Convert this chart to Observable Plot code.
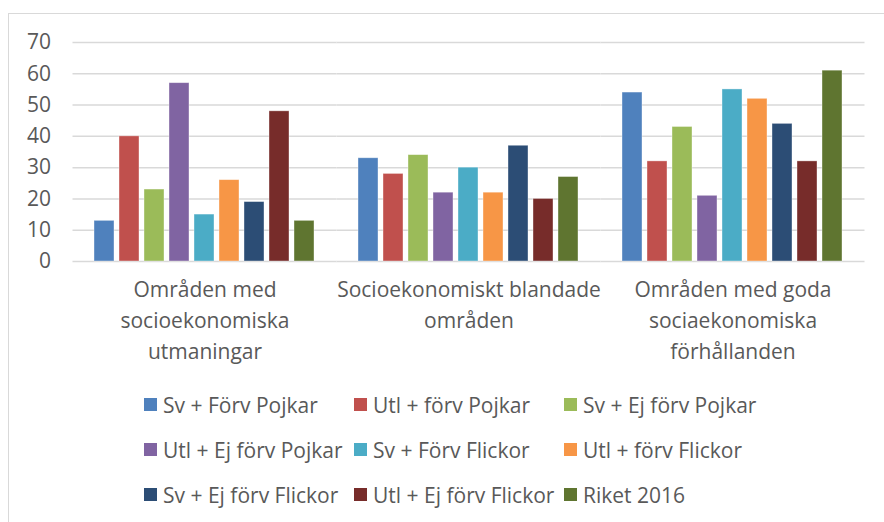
<!DOCTYPE html>
<html>
<head>
<meta charset="utf-8">
<script src="https://cdn.jsdelivr.net/npm/d3@7"></script>
<script src="https://cdn.jsdelivr.net/npm/@observablehq/plot@0.6"></script>
<style>
  html, body { margin: 0; padding: 0; background: #ffffff; }
  body { width: 884px; height: 522px; overflow: hidden; position: relative; font-family: "Open Sans", sans-serif; }
  #frame { position: absolute; left: 8px; top: 13px; width: 900px; height: 560px; border-left: 1.5px solid #d9d9d9; border-top: 1.5px solid #d9d9d9; box-sizing: border-box; }
  #chart { position: absolute; left: 0; top: 0; }
  #legend { position: absolute; left: 144px; top: 382px; display: grid; grid-template-columns: 210px 210px 210px; }
  .item { height: 45px; display: flex; align-items: center; white-space: nowrap; font-size: 21px; color: #595959; }
  .sw { width: 13px; height: 13px; margin-right: 6px; flex: none; }
</style>
</head>
<body>
<div id="frame"></div>
<div id="chart"></div>
<div id="legend"></div>
<script>
// Categories (groups) and their wrapped labels
const groups = [
  "Områden med socioekonomiska utmaningar",
  "Socioekonomiskt blandade områden",
  "Områden med goda sociaekonomiska förhållanden"
];
const groupLabels = [
  "Områden med\nsocioekonomiska\nutmaningar",
  "Socioekonomiskt blandade\nområden",
  "Områden med goda\nsociaekonomiska\nförhållanden"
];
// Series names
const series = [
  "Sv + Förv Pojkar",
  "Utl + förv Pojkar",
  "Sv + Ej förv Pojkar",
  "Utl + Ej förv Pojkar",
  "Sv + Förv Flickor",
  "Utl + förv Flickor",
  "Sv + Ej förv Flickor",
  "Utl + Ej förv Flickor",
  "Riket 2016"
];
const seriesColors = [
  "#4F81BD", "#C0504D", "#9BBB59", "#8064A2", "#4BACC6",
  "#F79646", "#2C4D75", "#772C2A", "#5F7530"
];
// Values per group, in series order
const utmaningar = [13, 40, 23, 57, 15, 26, 19, 48, 13];
const blandade   = [33, 28, 34, 22, 30, 22, 37, 20, 27];
const goda       = [54, 32, 43, 21, 55, 52, 44, 32, 61];
const yTicks = [0, 10, 20, 30, 40, 50, 60, 70];

const valuesByGroup = [utmaningar, blandade, goda];
const data = [];
groups.forEach((g, gi) => series.forEach((s, si) => data.push({group: g, series: s, value: valuesByGroup[gi][si]})));
const labelOf = new Map(groups.map((g, i) => [g, groupLabels[i]]));

const chart = Plot.plot({
  width: 884,
  height: 380,
  marginLeft: 72,
  marginRight: 20,
  marginTop: 42,
  marginBottom: 119,
  style: {fontFamily: "'Open Sans', sans-serif", fontSize: "21px", color: "#595959", background: "transparent", overflow: "visible"},
  fx: {domain: groups, paddingInner: 43 / 264, paddingOuter: 21.5 / 264, label: null},
  x: {domain: series, paddingInner: 0.2, paddingOuter: 0, axis: null},
  y: {domain: [0, 70], label: null},
  color: {domain: series, range: seriesColors},
  marks: [
    Plot.ruleY(yTicks, {stroke: "#d9d9d9", strokeWidth: 1.5, insetLeft: -21.5, insetRight: -21.5}),
    Plot.barY(data, {fx: "group", x: "series", y: "value", fill: "series", stroke: "#ffffff", strokeOpacity: 0.5, strokeWidth: 0.75}),
    Plot.axisY({ticks: yTicks, tickSize: 0, tickPadding: 43.5, fontSize: 21, fill: "#595959", label: null}),
    Plot.axisFx({anchor: "bottom", tickSize: 0, tickPadding: 14, fontSize: 21, fill: "#595959", lineHeight: 1.46, label: null, tickFormat: d => labelOf.get(d)})
  ]
});
document.getElementById("chart").appendChild(chart);

const legend = document.getElementById("legend");
series.forEach((s, i) => {
  const item = document.createElement("div");
  item.className = "item";
  const sw = document.createElement("span");
  sw.className = "sw";
  sw.style.background = seriesColors[i];
  const t = document.createElement("span");
  t.textContent = s;
  item.appendChild(sw);
  item.appendChild(t);
  legend.appendChild(item);
});
</script>
</body>
</html>
